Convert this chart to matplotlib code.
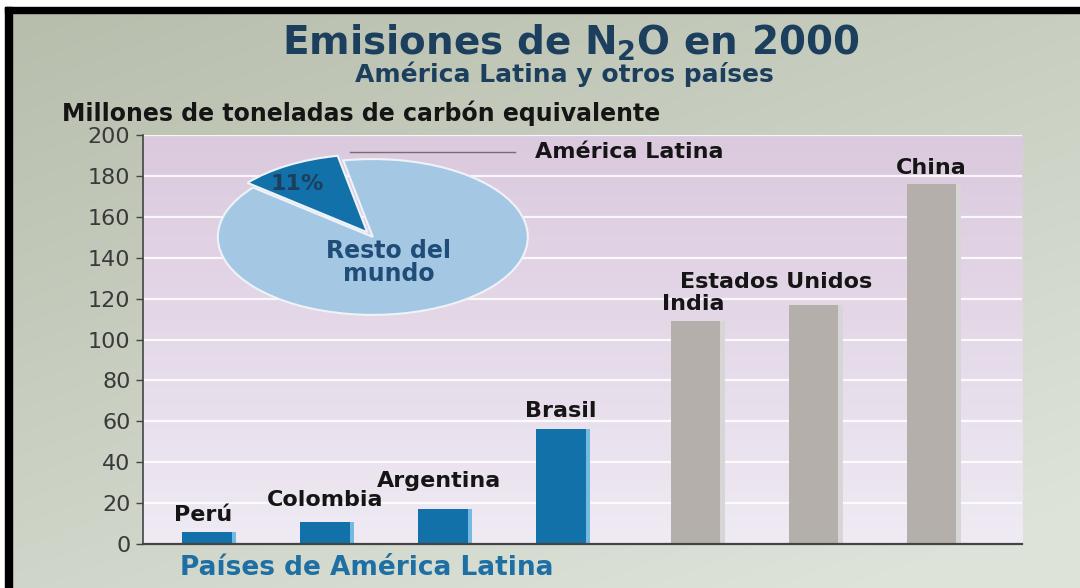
import numpy as np
import matplotlib
matplotlib.use("Agg")
import matplotlib.pyplot as plt
from matplotlib.colors import to_rgb
from matplotlib.patches import Rectangle

# data
paises = ["Perú", "Colombia", "Argentina", "Brasil", "India", "Estados Unidos", "China"]
emisiones = [6, 11, 17, 56, 109, 117, 176]
latam = [True, True, True, True, False, False, False]
pie_labels = ["América Latina", "Resto del", "mundo"]
pie_share = [11, 89]
yticks = list(range(0, 201, 20))

# layout / style (not data)
posiciones = np.array([0, 1, 2, 3, 4.14, 5.14, 6.14])
lab_dx = [-0.03, 0, -0.03, 0, -0.02, -0.32, 0]
lab_dy = [8, 10.5, 14, 9, 8.5, 11, 8]
azul = "#1271a9"
gris = "#b4afab"
navy = "#1d3f5e"

plt.rcParams["font.family"] = ["DejaVu Sans"]
fig = plt.figure(figsize=(10.8, 5.88), dpi=100)

# background of the figure: greyish green gradient
bg = fig.add_axes([0, 0, 1, 1], zorder=-10)
yy, xx = np.mgrid[0:1:200j, 0:1:300j]
t = np.clip(0.65 * yy + 0.45 * xx, 0, 1)[..., None]
c0, c1 = np.array(to_rgb("#b6bdab")), np.array(to_rgb("#dde3d9"))
bg.imshow(c0 + (c1 - c0) * t, extent=(0, 1, 0, 1), aspect="auto", origin="upper")
bg.set_xlim(0, 1)
bg.set_ylim(0, 1)
bg.axis("off")
# white margin + black frame at top and left
bg.add_patch(Rectangle((0, 0.988), 1, 0.02, color="white", zorder=3))
bg.add_patch(Rectangle((0, 0), 0.0046, 1, color="white", zorder=3))
bg.add_patch(Rectangle((0.0046, 0.9779), 1, 0.0102, color="black", zorder=4))
bg.add_patch(Rectangle((0.0046, 0), 0.0066, 0.988, color="black", zorder=4))

ax = fig.add_axes([0.1324, 0.0748, 0.8139, 0.6956])
xl = (-0.542, 6.907)
# plot area gradient
g = np.linspace(0, 1, 100)[:, None, None]
p0, p1 = np.array(to_rgb("#dbc9de")), np.array(to_rgb("#efeaf3"))
ax.imshow(p0 + (p1 - p0) * g, extent=(xl[0], xl[1], 0, 200), aspect="auto",
          origin="upper", zorder=0)
ax.set_xlim(*xl)
ax.set_ylim(0, 200)

for y in yticks[1:]:
    ax.axhline(y, color="white", lw=1.6, alpha=0.85, zorder=1)

colores = [azul if l else gris for l in latam]
brillo = ["#74b9e2" if l else "#d8d5d6" for l in latam]
ax.bar(posiciones, emisiones, width=0.42, color=colores, zorder=2)
ax.bar(posiciones + 0.23, emisiones, width=0.04, color=brillo, zorder=2)

for x, v, n, dx, dy in zip(posiciones, emisiones, paises, lab_dx, lab_dy):
    ax.text(x + dx, v + dy, n, ha="center", va="center", fontsize=16,
            fontweight="bold", color="#151515", zorder=3)

ax.set_yticks(yticks)
ax.set_yticklabels([str(v) for v in yticks], fontsize=16, color="#3a3a3a")
ax.set_xticks([])
ax.tick_params(axis="y", length=5, width=1, color="#444444", pad=4)
for s in ["top", "right"]:
    ax.spines[s].set_visible(False)
ax.spines["left"].set_color("#444444")
ax.spines["bottom"].set_color("#444444")
ax.spines["left"].set_linewidth(1.2)
ax.spines["bottom"].set_linewidth(1.6)

# "América Latina" pointer line and label
ax.plot([1.21, 2.61], [191.5, 191.5], color="#7b6c72", lw=1, zorder=3)
ax.text(2.78, 191.5, pie_labels[0], ha="left", va="center", fontsize=16,
        fontweight="bold", color="#151515", zorder=3)

# pie inset (drawn as flat ellipse)
pax = fig.add_axes([0.173, 0.438, 0.3444, 0.318])
w, _ = pax.pie(pie_share, colors=[azul, "#a4c7e4"], startangle=101,
               counterclock=True, explode=[0.07, 0],
               wedgeprops=dict(edgecolor="#eef3f8", linewidth=1.5))
pax.set_aspect("auto")
pax.set_xlim(-1.2, 1.2)
pax.set_ylim(-1.2, 1.2)
pax.text(-0.49, 0.68, f"{pie_share[0]}%", ha="center", va="center", fontsize=16,
         fontweight="bold", color=navy)
pax.text(0.1, -0.27, pie_labels[1], ha="center", va="baseline", fontsize=17,
         fontweight="bold", color="#1f4d78")
pax.text(0.1, -0.57, pie_labels[2], ha="center", va="baseline", fontsize=17,
         fontweight="bold", color="#1f4d78")

# titles
fig.text(0.528, 0.907, "Emisiones de N$_\\mathbf{2}$O en 2000", ha="center", va="baseline",
         fontsize=28, fontweight="bold", color=navy)
fig.text(0.523, 0.861, "América Latina y otros países", ha="center", va="baseline",
         fontsize=18, fontweight="bold", color=navy)
fig.text(0.057, 0.795, "Millones de toneladas de carbón equivalente", ha="left",
         va="baseline", fontsize=17, fontweight="bold", color="#151515")
fig.text(0.167, 0.022, "Países de América Latina", ha="left", va="baseline",
         fontsize=19, fontweight="bold", color="#1e6fa3")

fig.savefig("out.png", dpi=100)
